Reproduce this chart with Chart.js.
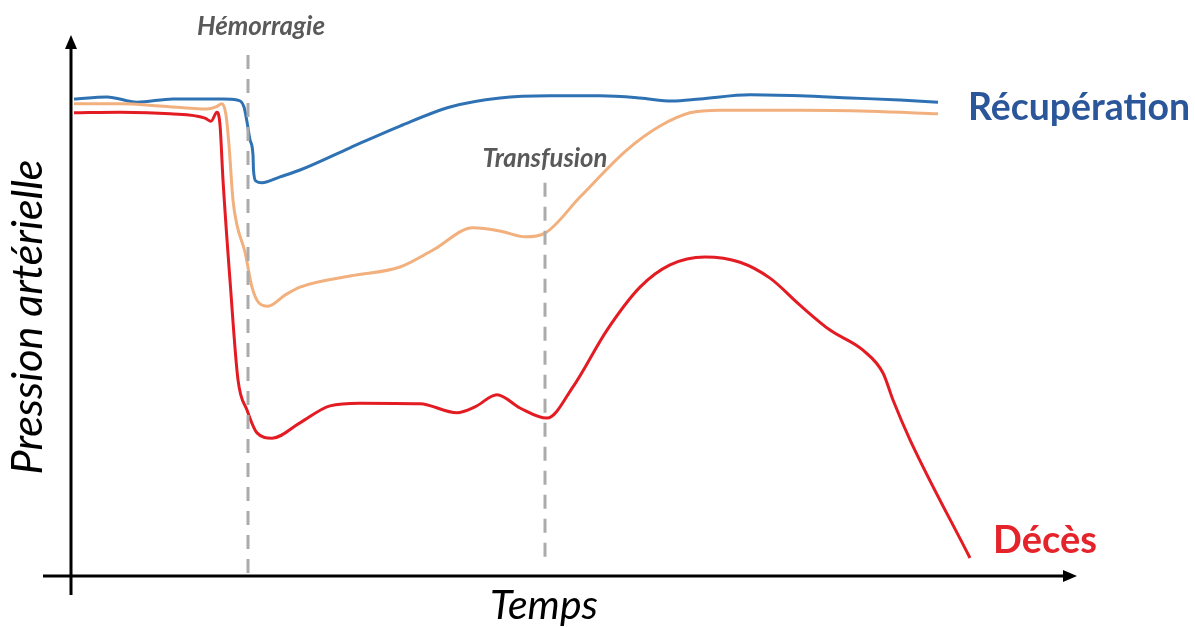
<!DOCTYPE html>
<html>
<head>
<meta charset="utf-8">
<script src="https://cdn.jsdelivr.net/npm/chart.js@4.4.1/dist/chart.umd.min.js"></script>
<style>
html,body{margin:0;padding:0;background:#ffffff;overflow:hidden}
canvas{display:block}
</style>
</head>
<body>
<canvas id="c" width="1195" height="627"></canvas>
<script>
// ---- Data (arbitrary units: time 0-100, pressure 0-100) ----
const recupTime = [0.3,3.6,6.6,10.2,15.2,16.6,17.3,17.6,17.9,18.2,18.25,18.5,19.1,20.9,22.9,27.9,32.9,37.9,42.9,47.9,52.9,56.9,60.1,62.9,67.9,72.9,77.9,82.9,86.7];
const recupPressure = [90.0,90.4,89.4,90.0,90.0,89.8,88.5,85.7,82.3,79.4,76.6,74.5,74.2,75.3,76.6,80.8,84.9,88.5,90.2,90.6,90.6,90.2,89.6,90.0,90.8,90.6,90.2,89.8,89.4];

const partialTime = [0.3,4.9,8.9,13.6,14.5,15.1,15.5,15.8,16.2,16.6,17.4,18.1,18.8,19.7,21.4,22.9,27.9,32.9,36.2,40.2,42.9,45.4,47.4,50.9,55.6,58.9,61.9,64.9,72.9,79.9,86.7];
const partialPressure = [89.1,89.1,88.7,88.1,88.5,89.1,87.0,81.3,70.9,66.2,61.1,54.5,51.5,50.9,53.0,54.5,56.6,58.3,61.5,65.7,65.1,64.0,64.7,71.5,80.4,84.9,87.4,87.9,87.9,87.7,87.2];

const deathTime = [0.3,4.9,9.9,13.4,14.0,14.6,14.9,15.2,15.9,16.7,17.6,18.6,20.1,22.9,25.9,28.9,34.9,38.6,40.4,42.6,44.9,47.6,50.2,53.6,56.9,59.9,63.4,66.9,69.9,72.9,75.9,79.2,81.2,82.2,83.9,89.9];
const deathPressure = [87.4,87.5,87.2,86.4,85.8,87.5,85.1,74.7,55.8,37.0,31.3,27.0,26.0,28.9,32.1,32.6,32.5,30.8,31.9,34.2,31.7,29.8,35.7,46.4,54.5,58.7,60.2,59.2,56.2,51.1,46.4,42.6,38.3,33.2,25.7,3.4];

// Event markers
const eventNames = ["Hémorragie", "Transfusion"];
const eventTimes = [17.7, 47.4];
const eventTop = [98.3, 74.2];
const eventBottom = [0, 2.1];

const seriesNames = ["Récupération", "Décès"];
const axisTitles = ["Temps", "Pression artérielle"];

const pts = (xs, ys) => xs.map((x, i) => ({x, y: ys[i]}));

const datasets = [
  {data: pts([eventTimes[0], eventTimes[0]], [eventTop[0], eventBottom[0]]), borderColor:'#ABABAB', borderWidth:3, borderDash:[14,10], pointRadius:0, tension:0, clip:false},
  {data: pts([eventTimes[1], eventTimes[1]], [eventTop[1], eventBottom[1]]), borderColor:'#ABABAB', borderWidth:3, borderDash:[14,10], pointRadius:0, tension:0, clip:false},
  {data: pts(partialTime, partialPressure), borderColor:'#F2B07F', borderWidth:3, pointRadius:0, cubicInterpolationMode:'monotone', clip:false},
  {data: pts(recupTime, recupPressure), borderColor:'#2E72B4', borderWidth:3, pointRadius:0, cubicInterpolationMode:'monotone', clip:false},
  {data: pts(deathTime, deathPressure), borderColor:'#E31B23', borderWidth:3, pointRadius:0, cubicInterpolationMode:'monotone', clip:false}
];

function fitFont(ctx, text, style, family, width) {
  ctx.font = style + ' 100px ' + family;
  const w = ctx.measureText(text).width;
  const size = 100 * width / w;
  return style + ' ' + size.toFixed(1) + 'px ' + family;
}

const decor = {
  id: 'decor',
  beforeDatasetsDraw(chart) {
    const ctx = chart.ctx;
    const xs = chart.scales.x, ys = chart.scales.y;
    const x0 = xs.getPixelForValue(0), y0 = ys.getPixelForValue(0);
    ctx.save();
    ctx.strokeStyle = '#000'; ctx.fillStyle = '#000'; ctx.lineWidth = 3;
    // y axis
    ctx.beginPath(); ctx.moveTo(x0, y0 + 19); ctx.lineTo(x0, ys.top - 0); ctx.stroke();
    ctx.beginPath(); ctx.moveTo(x0, ys.top - 11); ctx.lineTo(x0 - 6, ys.top + 3); ctx.lineTo(x0 + 6, ys.top + 3); ctx.closePath(); ctx.fill();
    // x axis
    const xr = xs.getPixelForValue(100);
    ctx.beginPath(); ctx.moveTo(x0 - 28, y0); ctx.lineTo(xr - 4, y0); ctx.stroke();
    ctx.beginPath(); ctx.moveTo(xr + 6, y0); ctx.lineTo(xr - 8, y0 - 6); ctx.lineTo(xr - 8, y0 + 6); ctx.closePath(); ctx.fill();
    ctx.restore();
  },
  afterDraw(chart) {
    const ctx = chart.ctx;
    const xs = chart.scales.x, ys = chart.scales.y;
    const fam = 'Lato, "Open Sans", sans-serif';
    ctx.save();
    ctx.textBaseline = 'middle';
    ctx.textAlign = 'center';
    // event labels
    ctx.fillStyle = '#595959';
    ctx.font = fitFont(ctx, eventNames[0], 'italic bold', fam, 128);
    ctx.fillText(eventNames[0], xs.getPixelForValue(eventTimes[0]) + 13, 27);
    ctx.font = fitFont(ctx, eventNames[1], 'italic bold', fam, 125);
    ctx.fillText(eventNames[1], xs.getPixelForValue(eventTimes[1]), ys.getPixelForValue(eventTop[1]) - 24);
    // series labels
    ctx.textAlign = 'left';
    ctx.fillStyle = '#2B579A';
    ctx.font = fitFont(ctx, seriesNames[0], 'bold', fam, 222);
    ctx.fillText(seriesNames[0], 968, 108);
    ctx.fillStyle = '#E4232A';
    ctx.font = fitFont(ctx, seriesNames[1], 'bold', fam, 104);
    ctx.fillText(seriesNames[1], 993, 541);
    // axis titles
    ctx.fillStyle = '#000';
    ctx.textAlign = 'center';
    ctx.font = fitFont(ctx, axisTitles[0], 'italic', fam, 108);
    ctx.fillText(axisTitles[0], 544, 606);
    ctx.translate(28, 317);
    ctx.rotate(-Math.PI / 2);
    ctx.font = fitFont(ctx, axisTitles[1], 'italic', fam, 315);
    ctx.fillText(axisTitles[1], 0, 0);
    ctx.restore();
  }
};

new Chart(document.getElementById('c'), {
  type: 'line',
  data: {datasets},
  options: {
    responsive: false,
    animation: false,
    events: [],
    layout: {padding: {left: 71, right: 124, top: 46, bottom: 51}},
    plugins: {legend: {display: false}, tooltip: {enabled: false}},
    scales: {
      x: {type: 'linear', min: 0, max: 100, display: false},
      y: {type: 'linear', min: 0, max: 100, display: false}
    }
  },
  plugins: [decor]
});
</script>
</body>
</html>
